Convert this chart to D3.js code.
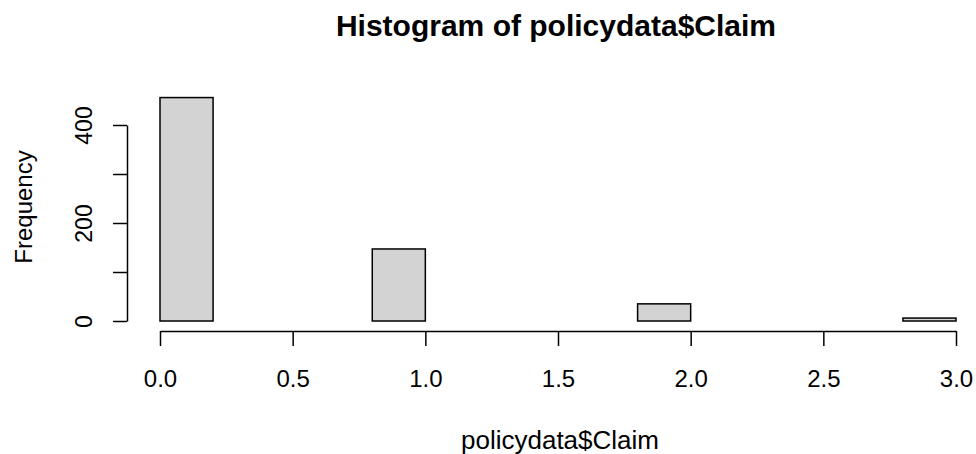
<!DOCTYPE html>
<html>
<head>
<meta charset="utf-8">
<script src="https://cdn.jsdelivr.net/npm/d3@7"></script>
<style>
  body { margin: 0; background: #fff; }
  text { font-family: "Liberation Sans", Arial, sans-serif; fill: #000; }
</style>
</head>
<body>
<svg width="976" height="454"></svg>
<script>
const width = 976;
const height = 454;

// histogram bins (breaks) and counts
const breaks = [0, 0.2, 0.4, 0.6, 0.8, 1.0, 1.2, 1.4, 1.6, 1.8, 2.0, 2.2, 2.4, 2.6, 2.8, 3.0];
const counts = [456, 0, 0, 0, 147, 0, 0, 0, 0, 35, 0, 0, 0, 0, 6];
const xTicks = [0, 0.5, 1.0, 1.5, 2.0, 2.5, 3.0];
const yTicks = [0, 100, 200, 300, 400];
const yLabels = [0, 200, 400];

const svg = d3.select("svg")
    .attr("viewBox", [0, 0, width, height]);

const x = d3.scaleLinear().domain([0, 3]).range([160, 956]);
const y = d3.scaleLinear().domain([0, 400]).range([321, 125]);

// bars
const bins = counts.map((c, i) => ({x0: breaks[i], x1: breaks[i + 1], n: c}));
svg.append("g")
  .selectAll("rect")
  .data(bins)
  .join("rect")
    .attr("x", d => x(d.x0))
    .attr("y", d => y(d.n))
    .attr("width", d => x(d.x1) - x(d.x0))
    .attr("height", d => y(0) - y(d.n))
    .attr("fill", "#d3d3d3")
    .attr("stroke", "#000")
    .attr("stroke-width", 1.5);

// x axis
const xAxis = svg.append("g")
    .attr("transform", "translate(0,331)")
    .call(d3.axisBottom(x).tickValues(xTicks).tickSize(15).tickSizeOuter(0)
      .tickFormat(d3.format(".1f")));
xAxis.selectAll(".tick text")
    .attr("y", 0).attr("dy", null)
    .attr("transform", "translate(0,56)")
    .style("font-size", "24px");

// y axis
const yAxis = svg.append("g")
    .attr("transform", "translate(127,0)")
    .call(d3.axisLeft(y).tickValues(yTicks).tickSize(14).tickSizeOuter(0)
      .tickFormat(d => yLabels.includes(d) ? d : ""));
yAxis.selectAll(".tick text")
    .attr("x", null).attr("dy", null)
    .attr("text-anchor", "middle")
    .attr("transform", "translate(-35,0) rotate(-90)")
    .style("font-size", "23px");

svg.selectAll(".domain, .tick line")
    .attr("stroke", "#000")
    .attr("stroke-width", 1.5);

// titles
svg.append("text")
    .attr("x", 556).attr("y", 36)
    .attr("text-anchor", "middle")
    .style("font-size", "30px")
    .style("font-weight", "bold")
    .text("Histogram of policydata$Claim");

svg.append("text")
    .attr("x", 560).attr("y", 449)
    .attr("text-anchor", "middle")
    .style("font-size", "26px")
    .text("policydata$Claim");

svg.append("text")
    .attr("transform", "translate(32,207) rotate(-90)")
    .attr("text-anchor", "middle")
    .style("font-size", "24px")
    .text("Frequency");
</script>
</body>
</html>
